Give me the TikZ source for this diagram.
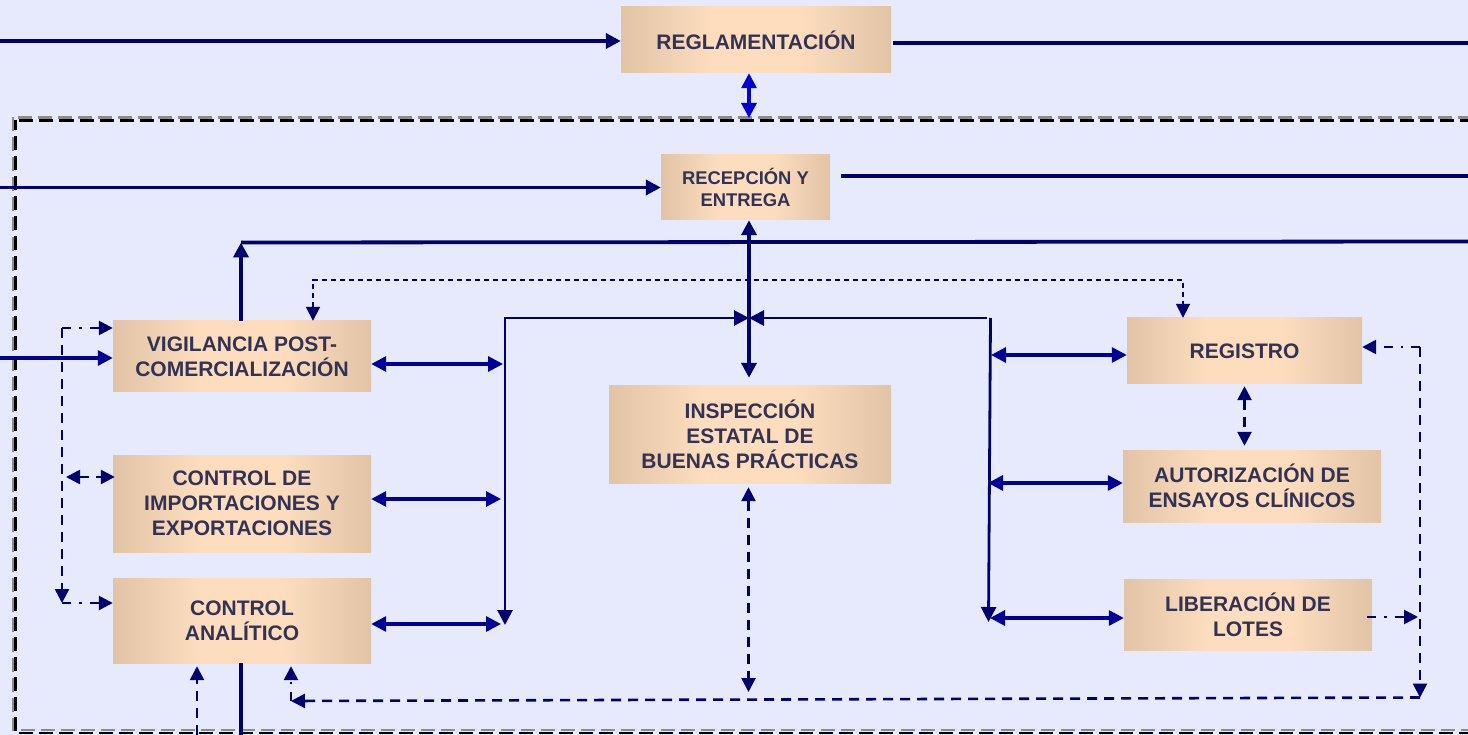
\documentclass[tikz,border=0pt]{standalone}
\usepackage{fontspec}
\setmainfont{Liberation Sans}
\usetikzlibrary{arrows.meta}
\definecolor{bgc}{RGB}{230,234,252}
\definecolor{navyc}{RGB}{0,0,110}
\definecolor{bluec}{RGB}{0,0,150}
\definecolor{brightb}{RGB}{0,0,215}
\definecolor{tanc}{RGB}{196,168,142}
\definecolor{peachc}{RGB}{253,221,190}
\definecolor{txtc}{RGB}{50,50,85}
\definecolor{grayc}{RGB}{140,140,140}
\pgfdeclarehorizontalshading{boxshade}{100bp}{color(0bp)=(tanc); color(7bp)=(tanc); color(42bp)=(peachc); color(58bp)=(peachc); color(93bp)=(tanc); color(100bp)=(tanc)}
\begin{document}
\begin{tikzpicture}[x=1pt,y=-1pt,
  >={Triangle[length=15pt,width=15pt]},
  box/.style={draw=none, shade, shading=boxshade,
    text=txtc, font=\fontsize{21}{25}\selectfont\bfseries, align=center,
    inner sep=0pt, anchor=center},
  smallbox/.style={box, font=\fontsize{18.4}{22}\selectfont\bfseries},
  thickline/.style={draw=navyc, line width=3.8pt},
  bracketline/.style={draw=navyc, line width=2.8pt},
  dblarrow/.style={draw=bluec, line width=3.2pt, <->},
  inarrow/.style={draw=bluec, line width=3.2pt, ->},
  dashline/.style={draw=navyc, line width=2.6pt, dash pattern=on 10pt off 7pt,
    >={Triangle[length=14pt,width=14pt]}},
  dashdotline/.style={draw=navyc, line width=2.6pt, dash pattern=on 9pt off 8pt on 2.5pt off 8pt,
    >={Triangle[length=14pt,width=14pt]}},
  dotline/.style={draw=navyc, line width=1.8pt, dash pattern=on 5pt off 4pt,
    >={Triangle[length=14pt,width=14pt]}},
  framestyle/.style={line width=2.6pt, dash pattern=on 14pt off 6pt}
]
\useasboundingbox (0,0) rectangle (1468,735);
\clip (0,0) rectangle (1468,735);
\fill[bgc] (0,0) rectangle (1468,735);

% frame
\draw[framestyle, draw=grayc] (13,117.5) rectangle (1500,730);
\draw[framestyle, draw=black, dash phase=4pt] (15.5,120.5) rectangle (1500,733);

% boxes
\node[box, minimum width=270pt, minimum height=66pt] (regl) at (756,40) {REGLAMENTACIÓN};
\node[smallbox, minimum width=169pt, minimum height=65pt] (rece) at (745.5,187.5) {RECEPCIÓN Y\\ENTREGA};
\node[box, minimum width=258pt, minimum height=71pt] (vig) at (242,356.5) {VIGILANCIA POST-\\COMERCIALIZACIÓN};
\node[box, minimum width=258pt, minimum height=97pt] (imp) at (242,503.5) {CONTROL DE\\IMPORTACIONES Y\\EXPORTACIONES};
\node[box, minimum width=258pt, minimum height=85pt] (ana) at (242,620.5) {CONTROL\\ANALÍTICO};
\node[box, minimum width=282pt, minimum height=97pt] (insp) at (750,434.5) {INSPECCIÓN\\ESTATAL DE\\BUENAS PRÁCTICAS};
\node[box, minimum width=235pt, minimum height=66pt] (regi) at (1244.5,351) {REGISTRO};
\node[box, minimum width=258pt, minimum height=72pt] (aut) at (1252,486) {AUTORIZACIÓN DE\\ENSAYOS CLÍNICOS};
\node[box, minimum width=248pt, minimum height=71pt] (lib) at (1248,614.5) {LIBERACIÓN DE\\LOTES};

% coordinates
\coordinate (inA) at (0,41);
\coordinate (outA) at (1468,43);
\coordinate (frtop) at (749,118);
\coordinate (inB) at (0,187.5);
\coordinate (outB) at (1468,176);
\coordinate (vtop) at (241,242.5);
\coordinate (outC) at (1468,241.5);
\coordinate (dL) at (313,280);
\coordinate (dR) at (1183,280);
\coordinate (cx) at (749,318);
\coordinate (lbT) at (505,318);
\coordinate (lbB) at (505,625);
\coordinate (rbT) at (990.5,318);
\coordinate (rbB) at (988.5,622);
\coordinate (lb1) at (503,364);
\coordinate (lb2) at (501,499);
\coordinate (lb3) at (501,624);
\coordinate (rb1) at (991,355);
\coordinate (rb2) at (988,483);
\coordinate (rb3) at (990,618);
\coordinate (inD) at (0,358);
\coordinate (lv1) at (62,328);
\coordinate (lv2) at (62,603);
\coordinate (li) at (66,477);
\coordinate (bA) at (197,735);
\coordinate (bB) at (241,735);
\coordinate (rv1) at (1420,347);
\coordinate (rv2) at (1420,697.5);
\coordinate (bl) at (291,701);
\coordinate (lr) at (1418,617);
\coordinate (ib) at (748.5,692);

% top connectors
\draw[thickline, ->] (inA) -- (inA -| regl.west);
\draw[thickline] ([xshift=2pt]regl.east |- outA) -- (outA);
\draw[draw=brightb, line width=3.2pt, <->] (frtop |- regl.south) -- (frtop);
\draw[thickline, ->] (inB) -- (rece.west);
\draw[thickline] ([xshift=11pt]rece.east |- outB) -- (outB);
\draw[thickline, <->, shorten >=8pt] (cx |- rece.south) -- (cx |- insp.north);
\draw[thickline, ->] (vtop |- vig.north) -- (vtop);
\draw[thickline] (vtop) -- (outC);
\draw[dotline, <->] (dL |- vig.north) -- (dL) -- (dR) -- (dR |- regi.north);

% brackets
\draw[bracketline, <->] (lbB) -- (lbT) -- (cx);
\draw[bracketline, ->] (rbT) -- (rbB);
\draw[bracketline, ->] ([xshift=-3.5pt]rbT) -- (cx);

% double arrows
\draw[dblarrow] (lb1 -| vig.east) -- (lb1);
\draw[dblarrow] (lb2 -| imp.east) -- (lb2);
\draw[dblarrow] (lb3 -| ana.east) -- (lb3);
\draw[dblarrow] (rb1) -- (rb1 -| regi.west);
\draw[dblarrow] (rb2) -- (rb2 -| aut.west);
\draw[dblarrow] (rb3) -- (rb3 -| lib.west);

% left side
\draw[inarrow] (inD) -- (inD -| vig.west);
\draw[dashdotline, ->] (lv1) -- (lv1 -| vig.west);
\draw[dashline, ->] (lv1) -- (lv2);
\draw[dashdotline, ->] (lv2) -- (lv2 -| ana.west);
\draw[dashline, <->] (li) -- ([xshift=2pt]li -| imp.west);

% bottom
\draw[dashline, ->] (bA) -- ([yshift=-3pt]bA |- ana.south);
\draw[thickline] (bB |- ana.south) -- (bB);
\draw[dashdotline, ->] (rv1) -- (rv1 -| regi.east);
\draw[dashline, ->] (rv1) -- (rv2);
\draw[dashline, ->] (rv2) -- (bl);
\draw[dashdotline, ->] (bl) -- ([yshift=-3pt]bl |- ana.south);
\draw[dashdotline, ->] ([xshift=-5pt]lib.east |- lr) -- (lr);
\draw[dashline, <->, shorten <=2pt, shorten >=4pt] (regi.south) -- (regi.south |- aut.north);
\draw[dashline, <->, shorten <=4pt] (ib |- insp.south) -- (ib);
\end{tikzpicture}
\end{document}
